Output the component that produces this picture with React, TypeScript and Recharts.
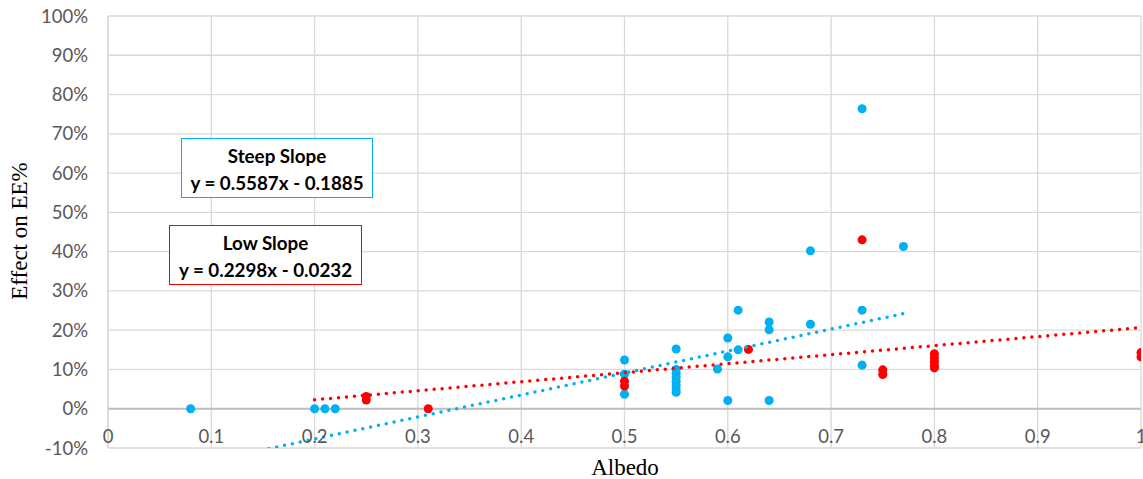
import React from 'react';
import { ScatterChart, Scatter, XAxis, YAxis, ZAxis, CartesianGrid, ReferenceLine } from 'recharts';

// Steep Slope (blue) points
const steepX = [0.08, 0.2, 0.21, 0.22, 0.5, 0.5, 0.5, 0.55, 0.55, 0.55, 0.55, 0.55, 0.55, 0.55, 0.55, 0.59, 0.6, 0.6, 0.6, 0.61, 0.61, 0.64, 0.64, 0.64, 0.68, 0.68, 0.73, 0.73, 0.73, 0.77];
const steepY = [0, 0, 0, 0, 0.124, 0.088, 0.037, 0.152, 0.1, 0.09, 0.08, 0.07, 0.06, 0.05, 0.042, 0.101, 0.18, 0.132, 0.021, 0.251, 0.15, 0.221, 0.201, 0.021, 0.402, 0.215, 0.764, 0.251, 0.111, 0.413];

// Low Slope (red) points
const lowX = [0.25, 0.25, 0.31, 0.5, 0.5, 0.62, 0.73, 0.75, 0.75, 0.8, 0.8, 0.8, 0.8, 0.8, 1.0, 1.0];
const lowY = [0.031, 0.022, 0, 0.07, 0.058, 0.151, 0.43, 0.099, 0.087, 0.14, 0.13, 0.12, 0.11, 0.104, 0.143, 0.132];

// Trendline endpoints
const steepTrendX = [0.08, 0.77];
const steepTrendY = [-0.144, 0.242];
const lowTrendX = [0.2, 1.0];
const lowTrendY = [0.0228, 0.2066];

const xTicks = [0, 0.1, 0.2, 0.3, 0.4, 0.5, 0.6, 0.7, 0.8, 0.9, 1];
const xTickLabels = ['0', '0.1', '0.2', '0.3', '0.4', '0.5', '0.6', '0.7', '0.8', '0.9', '1'];
const yTicks = [-0.1, 0, 0.1, 0.2, 0.3, 0.4, 0.5, 0.6, 0.7, 0.8, 0.9, 1];
const yTickLabels = ['-10%', '0%', '10%', '20%', '30%', '40%', '50%', '60%', '70%', '80%', '90%', '100%'];

const steepBox = { title: 'Steep Slope', eq: 'y = 0.5587x - 0.1885' };
const lowBox = { title: 'Low Slope', eq: 'y = 0.2298x - 0.0232' };

const zip = (xs: number[], ys: number[]) => xs.map((x, i) => ({ x, y: ys[i] }));

const steepData = zip(steepX, steepY);
const lowData = zip(lowX, lowY);
const steepTrend = zip(steepTrendX, steepTrendY);
const lowTrend = zip(lowTrendX, lowTrendY);

const BLUE = '#00B0F0';
const RED = '#FF0000';
const TICK_FONT = 'Lato, "Noto Sans", sans-serif';

const XTick = (props: any) => {
  const { x, y, payload } = props;
  const idx = xTicks.indexOf(payload.value);
  return (
    <text x={x} y={y - 5} textAnchor="middle" fill="#595959" fontSize={18.5} fontFamily={TICK_FONT}>
      {idx >= 0 ? xTickLabels[idx] : String(payload.value)}
    </text>
  );
};

const YTick = (props: any) => {
  const { x, y, payload } = props;
  const idx = yTicks.findIndex((t) => Math.abs(t - payload.value) < 1e-9);
  return (
    <text x={x} y={y} dy={6.5} textAnchor="end" fill="#595959" fontSize={18.5} fontFamily={TICK_FONT}>
      {idx >= 0 ? yTickLabels[idx] : String(payload.value)}
    </text>
  );
};

const NoShape = () => <g />;

const boxStyle = (color: string, left: number, top: number, width: number): React.CSSProperties => ({
  position: 'absolute',
  left,
  top,
  width,
  height: 60,
  boxSizing: 'border-box',
  border: `1.5px solid ${color}`,
  background: '#fff',
  fontFamily: 'Lato, "Noto Sans", sans-serif',
  fontWeight: 700,
  fontSize: 18.8,
  color: '#000',
  textAlign: 'center',
  lineHeight: '26.6px',
  paddingTop: 4,
  whiteSpace: 'nowrap',
});

export default function App() {
  return (
    <div style={{ position: 'absolute', left: 0, top: 0, width: 1143, height: 479, background: '#fff' }}>
      <ScatterChart width={1143} height={479} margin={{ top: 16, right: 2, left: 0, bottom: 0 }}>
        <CartesianGrid stroke="#D9D9D9" strokeWidth={1.3} />
        <XAxis
          type="number"
          dataKey="x"
          domain={[0, 1]}
          ticks={xTicks}
          interval={0}
          height={31}
          axisLine={false}
          tickLine={false}
          tickSize={0}
          tickMargin={0}
          tick={<XTick />}
          allowDataOverflow
        />
        <YAxis
          type="number"
          dataKey="y"
          domain={[-0.1, 1]}
          ticks={yTicks}
          interval={0}
          width={108}
          axisLine={{ stroke: '#D9D9D9', strokeWidth: 1.3 }}
          tickLine={false}
          tickSize={0}
          tickMargin={20}
          tick={<YTick />}
          allowDataOverflow
        />
        <ZAxis range={[80, 80]} />
        <ReferenceLine y={0} stroke="#BFBFBF" strokeWidth={1.8} />
        <Scatter data={steepData} fill={BLUE} isAnimationActive={false} />
        <Scatter data={lowData} fill={RED} isAnimationActive={false} />
        <Scatter
          data={steepTrend}
          shape={<NoShape />}
          line={{ stroke: BLUE, strokeWidth: 3.5, strokeDasharray: '0 8', strokeLinecap: 'round' }}
          lineType="joint"
          isAnimationActive={false}
        />
        <Scatter
          data={lowTrend}
          shape={<NoShape />}
          line={{ stroke: RED, strokeWidth: 3.5, strokeDasharray: '0 8', strokeLinecap: 'round' }}
          lineType="joint"
          isAnimationActive={false}
        />
      </ScatterChart>
      <div
        style={{
          position: 'absolute',
          left: 0,
          top: 455,
          width: 1250,
          textAlign: 'center',
          fontFamily: '"Liberation Serif", "Times New Roman", serif',
          fontSize: 23,
          lineHeight: '26px',
          color: '#000',
        }}
      >
        Albedo
      </div>
      <div
        style={{
          position: 'absolute',
          left: 20,
          top: 231,
          transform: 'translate(-50%, -50%) rotate(-90deg)',
          whiteSpace: 'nowrap',
          fontFamily: '"Liberation Serif", "Times New Roman", serif',
          fontSize: 23,
          lineHeight: '26px',
          color: '#000',
        }}
      >
        Effect on EE%
      </div>
      <div style={boxStyle(BLUE, 181, 138, 192)}>
        <div>{steepBox.title}</div>
        <div>{steepBox.eq}</div>
      </div>
      <div style={boxStyle(RED, 169, 225, 193)}>
        <div>{lowBox.title}</div>
        <div>{lowBox.eq}</div>
      </div>
    </div>
  );
}
